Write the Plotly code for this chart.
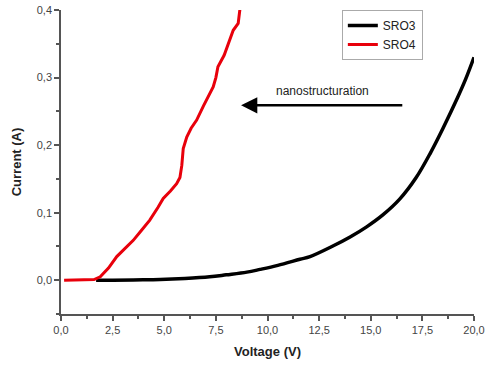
import plotly.graph_objects as go

sro3_v = [1.7, 2.5, 3.5, 4.8, 6.0, 7.2, 8.0, 9.0, 9.64, 10.5, 11.57, 12.06, 13.19, 14.0,
          14.8, 15.6, 16.4, 17.2, 17.9, 18.5, 19.2, 19.6, 20.0]
sro3_i = [0.0, 0.0, 0.0005, 0.001, 0.0025, 0.005, 0.008, 0.012, 0.016, 0.022, 0.031, 0.035,
          0.051, 0.064, 0.079, 0.097, 0.120, 0.152, 0.189, 0.225, 0.270, 0.298, 0.330]

sro4_v = [0.15, 0.8, 1.4, 1.6, 1.9, 2.3, 2.7, 3.1, 3.5, 3.9, 4.3, 4.7, 4.95, 5.3, 5.6, 5.76,
          5.85, 5.92, 6.09, 6.3, 6.57, 6.9, 7.2, 7.37, 7.5, 7.6, 7.9, 8.1, 8.34, 8.58, 8.63, 8.7]
sro4_i = [0.0, 0.0, 0.0, 0.001, 0.005, 0.018, 0.035, 0.047, 0.059, 0.074, 0.089, 0.108, 0.121,
          0.132, 0.143, 0.152, 0.170, 0.195, 0.212, 0.225, 0.237, 0.258, 0.277, 0.286, 0.300,
          0.316, 0.333, 0.350, 0.370, 0.380, 0.395, 0.41]

x_ticks = [0, 2.5, 5, 7.5, 10, 12.5, 15, 17.5, 20]
y_ticks = [0.0, 0.1, 0.2, 0.3, 0.4]

fig = go.Figure()
fig.add_trace(go.Scatter(x=sro3_v, y=sro3_i, mode="lines", name="SRO3",
                         line=dict(color="black", width=3.5, shape="spline", smoothing=1.0)))
fig.add_trace(go.Scatter(x=sro4_v, y=sro4_i, mode="lines", name="SRO4",
                         line=dict(color="#e8000b", width=3)))

axis_common = dict(showline=True, linecolor="#555", linewidth=1.5, ticks="outside",
                   ticklen=5, tickcolor="#555", tickwidth=1.5, showgrid=False, zeroline=False,
                   tickfont=dict(family="Liberation Sans, Arial", size=11, color="#444"),
                   tickformat=".1f", mirror=False, automargin=False)

fig.update_xaxes(range=[0, 20], tickvals=x_ticks,
                 minor=dict(ticks="outside", ticklen=3, dtick=1.25, tick0=0, tickcolor="#555", tickwidth=1.5),
                 title=dict(text="<b>Voltage (V)</b>", font=dict(family="Liberation Sans, Arial", size=13, color="#222"), standoff=12),
                 **axis_common)
fig.update_yaxes(range=[-0.05, 0.4], tickvals=y_ticks,
                 minor=dict(ticks="outside", ticklen=3, dtick=0.05, tick0=0, tickcolor="#555", tickwidth=1.5),
                 title=dict(text="<b>Current (A)</b>", font=dict(family="Liberation Sans, Arial", size=13, color="#222"), standoff=12),
                 **axis_common)

fig.add_annotation(x=8.72, y=0.259, ax=16.6, ay=0.259, xref="x", yref="y", axref="x", ayref="y",
                   text="", showarrow=True, arrowhead=2, arrowsize=1.3, arrowwidth=2.5, arrowcolor="black")
fig.add_annotation(x=12.65, y=0.28, xref="x", yref="y", text="nanostructuration", showarrow=False,
                   font=dict(family="Liberation Sans, Arial", size=12, color="#222"))

fig.update_layout(
    width=486, height=367, separators=", ",
    margin=dict(l=61, r=12, t=10, b=53),
    plot_bgcolor="white", paper_bgcolor="white",
    legend=dict(x=0.68, y=1.0, xanchor="left", yanchor="top", bgcolor="white",
                bordercolor="#aaa", borderwidth=1, tracegroupgap=0, itemwidth=30,
                font=dict(family="Liberation Sans, Arial", size=12, color="#222")),
)

fig.write_html("out.html", config={"displayModeBar": False},
               post_script="document.body.style.margin='0';document.body.style.overflow='hidden';")
